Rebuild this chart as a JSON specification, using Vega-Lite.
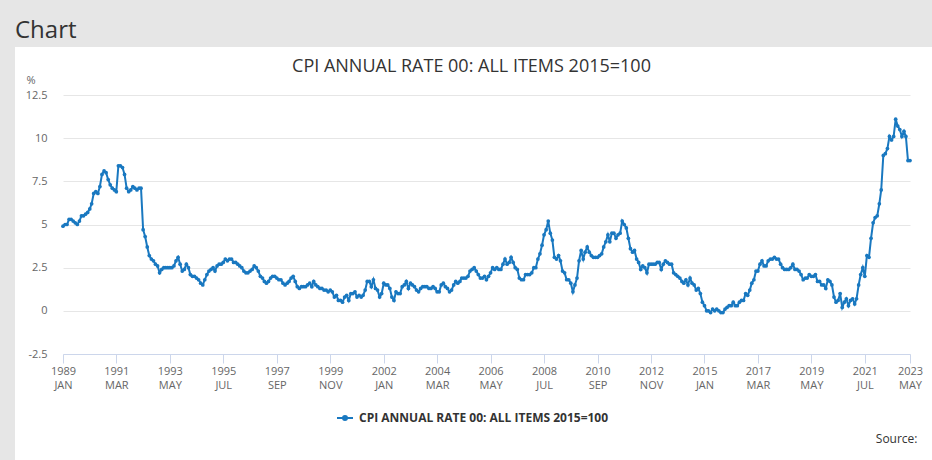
{
"$schema": "https://vega.github.io/schema/vega-lite/v6.json",
"background": "#e6e6e6",
"padding": {"left": 15, "top": 19, "right": 0, "bottom": 0},
"title": {"text": "Chart", "anchor": "start", "frame": "group", "fontSize": 24, "fontWeight": "normal", "color": "#333333", "offset": -15, "baseline": "alphabetic", "font": "Open Sans"},
"config": {"font": "Open Sans", "view": {"stroke": null, "fill": "white"}},
"vconcat": [{
"width": 917,
"height": 414,
"title": {"text": "CPI ANNUAL RATE 00: ALL ITEMS 2015=100", "anchor": "middle", "frame": "group", "fontSize": 18, "fontWeight": "normal", "color": "#333333", "baseline": "alphabetic", "offset": -43, "dx": -2},
"data": {"format": {"parse": {"d": "utc:'%Y-%m'"}}, "values": [
{"d":"1989-01","v":4.9},{"d":"1989-02","v":5.0},{"d":"1989-03","v":5.0},{"d":"1989-04","v":5.3},{"d":"1989-05","v":5.3},{"d":"1989-06","v":5.2},{"d":"1989-07","v":5.1},{"d":"1989-08","v":5.0},{"d":"1989-09","v":5.2},{"d":"1989-10","v":5.5},{"d":"1989-11","v":5.5},{"d":"1989-12","v":5.6},
{"d":"1990-01","v":5.7},{"d":"1990-02","v":5.9},{"d":"1990-03","v":6.2},{"d":"1990-04","v":6.8},{"d":"1990-05","v":6.9},{"d":"1990-06","v":6.8},{"d":"1990-07","v":7.2},{"d":"1990-08","v":7.9},{"d":"1990-09","v":8.1},{"d":"1990-10","v":8.0},{"d":"1990-11","v":7.6},{"d":"1990-12","v":7.3},
{"d":"1991-01","v":7.1},{"d":"1991-02","v":7.0},{"d":"1991-03","v":6.9},{"d":"1991-04","v":8.4},{"d":"1991-05","v":8.4},{"d":"1991-06","v":8.3},{"d":"1991-07","v":7.9},{"d":"1991-08","v":7.1},{"d":"1991-09","v":6.9},{"d":"1991-10","v":7.0},{"d":"1991-11","v":7.2},{"d":"1991-12","v":7.1},
{"d":"1992-01","v":7.0},{"d":"1992-02","v":7.1},{"d":"1992-03","v":7.1},{"d":"1992-04","v":4.7},{"d":"1992-05","v":4.3},{"d":"1992-06","v":3.7},{"d":"1992-07","v":3.2},{"d":"1992-08","v":3.0},{"d":"1992-09","v":2.9},{"d":"1992-10","v":2.7},{"d":"1992-11","v":2.6},{"d":"1992-12","v":2.2},
{"d":"1993-01","v":2.4},{"d":"1993-02","v":2.5},{"d":"1993-03","v":2.5},{"d":"1993-04","v":2.5},{"d":"1993-05","v":2.5},{"d":"1993-06","v":2.5},{"d":"1993-07","v":2.6},{"d":"1993-08","v":2.9},{"d":"1993-09","v":3.1},{"d":"1993-10","v":2.7},{"d":"1993-11","v":2.3},{"d":"1993-12","v":2.4},
{"d":"1994-01","v":2.7},{"d":"1994-02","v":2.5},{"d":"1994-03","v":2.1},{"d":"1994-04","v":2.0},{"d":"1994-05","v":2.0},{"d":"1994-06","v":1.9},{"d":"1994-07","v":1.8},{"d":"1994-08","v":1.6},{"d":"1994-09","v":1.5},{"d":"1994-10","v":1.8},{"d":"1994-11","v":2.1},{"d":"1994-12","v":2.3},
{"d":"1995-01","v":2.4},{"d":"1995-02","v":2.5},{"d":"1995-03","v":2.3},{"d":"1995-04","v":2.6},{"d":"1995-05","v":2.7},{"d":"1995-06","v":2.7},{"d":"1995-07","v":2.8},{"d":"1995-08","v":3.0},{"d":"1995-09","v":2.9},{"d":"1995-10","v":3.0},{"d":"1995-11","v":3.0},{"d":"1995-12","v":2.8},
{"d":"1996-01","v":2.8},{"d":"1996-02","v":2.7},{"d":"1996-03","v":2.6},{"d":"1996-04","v":2.5},{"d":"1996-05","v":2.3},{"d":"1996-06","v":2.2},{"d":"1996-07","v":2.2},{"d":"1996-08","v":2.3},{"d":"1996-09","v":2.4},{"d":"1996-10","v":2.6},{"d":"1996-11","v":2.5},{"d":"1996-12","v":2.3},
{"d":"1997-01","v":2.0},{"d":"1997-02","v":1.9},{"d":"1997-03","v":1.7},{"d":"1997-04","v":1.6},{"d":"1997-05","v":1.7},{"d":"1997-06","v":1.9},{"d":"1997-07","v":2.0},{"d":"1997-08","v":2.0},{"d":"1997-09","v":1.9},{"d":"1997-10","v":1.8},{"d":"1997-11","v":1.8},{"d":"1997-12","v":1.6},
{"d":"1998-01","v":1.5},{"d":"1998-02","v":1.6},{"d":"1998-03","v":1.7},{"d":"1998-04","v":1.9},{"d":"1998-05","v":2.0},{"d":"1998-06","v":1.7},{"d":"1998-07","v":1.4},{"d":"1998-08","v":1.3},{"d":"1998-09","v":1.4},{"d":"1998-10","v":1.4},{"d":"1998-11","v":1.4},{"d":"1998-12","v":1.5},
{"d":"1999-01","v":1.6},{"d":"1999-02","v":1.4},{"d":"1999-03","v":1.7},{"d":"1999-04","v":1.5},{"d":"1999-05","v":1.4},{"d":"1999-06","v":1.3},{"d":"1999-07","v":1.3},{"d":"1999-08","v":1.2},{"d":"1999-09","v":1.2},{"d":"1999-10","v":1.1},{"d":"1999-11","v":1.2},{"d":"1999-12","v":1.1},
{"d":"2000-01","v":0.8},{"d":"2000-02","v":0.9},{"d":"2000-03","v":0.6},{"d":"2000-04","v":0.6},{"d":"2000-05","v":0.5},{"d":"2000-06","v":0.8},{"d":"2000-07","v":0.9},{"d":"2000-08","v":0.6},{"d":"2000-09","v":1.0},{"d":"2000-10","v":1.0},{"d":"2000-11","v":1.1},{"d":"2000-12","v":0.8},
{"d":"2001-01","v":0.9},{"d":"2001-02","v":0.8},{"d":"2001-03","v":0.9},{"d":"2001-04","v":1.2},{"d":"2001-05","v":1.7},{"d":"2001-06","v":1.7},{"d":"2001-07","v":1.4},{"d":"2001-08","v":1.8},{"d":"2001-09","v":1.3},{"d":"2001-10","v":1.2},{"d":"2001-11","v":0.8},{"d":"2001-12","v":1.0},
{"d":"2002-01","v":1.6},{"d":"2002-02","v":1.5},{"d":"2002-03","v":1.5},{"d":"2002-04","v":1.3},{"d":"2002-05","v":0.8},{"d":"2002-06","v":0.6},{"d":"2002-07","v":1.1},{"d":"2002-08","v":1.0},{"d":"2002-09","v":1.0},{"d":"2002-10","v":1.4},{"d":"2002-11","v":1.5},{"d":"2002-12","v":1.7},
{"d":"2003-01","v":1.3},{"d":"2003-02","v":1.6},{"d":"2003-03","v":1.5},{"d":"2003-04","v":1.4},{"d":"2003-05","v":1.2},{"d":"2003-06","v":1.1},{"d":"2003-07","v":1.3},{"d":"2003-08","v":1.4},{"d":"2003-09","v":1.4},{"d":"2003-10","v":1.4},{"d":"2003-11","v":1.3},{"d":"2003-12","v":1.3},
{"d":"2004-01","v":1.4},{"d":"2004-02","v":1.3},{"d":"2004-03","v":1.1},{"d":"2004-04","v":1.1},{"d":"2004-05","v":1.5},{"d":"2004-06","v":1.6},{"d":"2004-07","v":1.4},{"d":"2004-08","v":1.3},{"d":"2004-09","v":1.1},{"d":"2004-10","v":1.2},{"d":"2004-11","v":1.5},{"d":"2004-12","v":1.7},
{"d":"2005-01","v":1.6},{"d":"2005-02","v":1.7},{"d":"2005-03","v":1.9},{"d":"2005-04","v":1.9},{"d":"2005-05","v":1.9},{"d":"2005-06","v":2.0},{"d":"2005-07","v":2.3},{"d":"2005-08","v":2.4},{"d":"2005-09","v":2.5},{"d":"2005-10","v":2.3},{"d":"2005-11","v":2.1},{"d":"2005-12","v":1.9},
{"d":"2006-01","v":1.9},{"d":"2006-02","v":2.0},{"d":"2006-03","v":1.8},{"d":"2006-04","v":2.0},{"d":"2006-05","v":2.2},{"d":"2006-06","v":2.5},{"d":"2006-07","v":2.4},{"d":"2006-08","v":2.5},{"d":"2006-09","v":2.4},{"d":"2006-10","v":2.4},{"d":"2006-11","v":2.7},{"d":"2006-12","v":3.0},
{"d":"2007-01","v":2.7},{"d":"2007-02","v":2.8},{"d":"2007-03","v":3.1},{"d":"2007-04","v":2.8},{"d":"2007-05","v":2.5},{"d":"2007-06","v":2.4},{"d":"2007-07","v":1.9},{"d":"2007-08","v":1.8},{"d":"2007-09","v":1.8},{"d":"2007-10","v":2.1},{"d":"2007-11","v":2.1},{"d":"2007-12","v":2.1},
{"d":"2008-01","v":2.2},{"d":"2008-02","v":2.5},{"d":"2008-03","v":2.5},{"d":"2008-04","v":3.0},{"d":"2008-05","v":3.3},{"d":"2008-06","v":3.8},{"d":"2008-07","v":4.4},{"d":"2008-08","v":4.7},{"d":"2008-09","v":5.2},{"d":"2008-10","v":4.5},{"d":"2008-11","v":4.1},{"d":"2008-12","v":3.1},
{"d":"2009-01","v":3.0},{"d":"2009-02","v":3.2},{"d":"2009-03","v":2.9},{"d":"2009-04","v":2.3},{"d":"2009-05","v":2.2},{"d":"2009-06","v":1.8},{"d":"2009-07","v":1.8},{"d":"2009-08","v":1.6},{"d":"2009-09","v":1.1},{"d":"2009-10","v":1.5},{"d":"2009-11","v":1.9},{"d":"2009-12","v":2.9},
{"d":"2010-01","v":3.5},{"d":"2010-02","v":3.0},{"d":"2010-03","v":3.4},{"d":"2010-04","v":3.7},{"d":"2010-05","v":3.4},{"d":"2010-06","v":3.2},{"d":"2010-07","v":3.1},{"d":"2010-08","v":3.1},{"d":"2010-09","v":3.1},{"d":"2010-10","v":3.2},{"d":"2010-11","v":3.3},{"d":"2010-12","v":3.7},
{"d":"2011-01","v":4.0},{"d":"2011-02","v":4.4},{"d":"2011-03","v":4.0},{"d":"2011-04","v":4.5},{"d":"2011-05","v":4.5},{"d":"2011-06","v":4.2},{"d":"2011-07","v":4.4},{"d":"2011-08","v":4.5},{"d":"2011-09","v":5.2},{"d":"2011-10","v":5.0},{"d":"2011-11","v":4.8},{"d":"2011-12","v":4.2},
{"d":"2012-01","v":3.6},{"d":"2012-02","v":3.4},{"d":"2012-03","v":3.5},{"d":"2012-04","v":3.0},{"d":"2012-05","v":2.8},{"d":"2012-06","v":2.4},{"d":"2012-07","v":2.6},{"d":"2012-08","v":2.5},{"d":"2012-09","v":2.2},{"d":"2012-10","v":2.7},{"d":"2012-11","v":2.7},{"d":"2012-12","v":2.7},
{"d":"2013-01","v":2.7},{"d":"2013-02","v":2.8},{"d":"2013-03","v":2.8},{"d":"2013-04","v":2.4},{"d":"2013-05","v":2.7},{"d":"2013-06","v":2.9},{"d":"2013-07","v":2.8},{"d":"2013-08","v":2.7},{"d":"2013-09","v":2.7},{"d":"2013-10","v":2.2},{"d":"2013-11","v":2.1},{"d":"2013-12","v":2.0},
{"d":"2014-01","v":1.9},{"d":"2014-02","v":1.7},{"d":"2014-03","v":1.6},{"d":"2014-04","v":1.8},{"d":"2014-05","v":1.5},{"d":"2014-06","v":1.9},{"d":"2014-07","v":1.6},{"d":"2014-08","v":1.5},{"d":"2014-09","v":1.2},{"d":"2014-10","v":1.3},{"d":"2014-11","v":1.0},{"d":"2014-12","v":0.5},
{"d":"2015-01","v":0.3},{"d":"2015-02","v":0.0},{"d":"2015-03","v":0.0},{"d":"2015-04","v":-0.1},{"d":"2015-05","v":0.1},{"d":"2015-06","v":0.0},{"d":"2015-07","v":0.1},{"d":"2015-08","v":0.0},{"d":"2015-09","v":-0.1},{"d":"2015-10","v":-0.1},{"d":"2015-11","v":0.1},{"d":"2015-12","v":0.2},
{"d":"2016-01","v":0.3},{"d":"2016-02","v":0.3},{"d":"2016-03","v":0.5},{"d":"2016-04","v":0.3},{"d":"2016-05","v":0.3},{"d":"2016-06","v":0.5},{"d":"2016-07","v":0.6},{"d":"2016-08","v":0.6},{"d":"2016-09","v":1.0},{"d":"2016-10","v":0.9},{"d":"2016-11","v":1.2},{"d":"2016-12","v":1.6},
{"d":"2017-01","v":1.8},{"d":"2017-02","v":2.3},{"d":"2017-03","v":2.3},{"d":"2017-04","v":2.7},{"d":"2017-05","v":2.9},{"d":"2017-06","v":2.6},{"d":"2017-07","v":2.6},{"d":"2017-08","v":2.9},{"d":"2017-09","v":3.0},{"d":"2017-10","v":3.0},{"d":"2017-11","v":3.1},{"d":"2017-12","v":3.0},
{"d":"2018-01","v":3.0},{"d":"2018-02","v":2.7},{"d":"2018-03","v":2.5},{"d":"2018-04","v":2.4},{"d":"2018-05","v":2.4},{"d":"2018-06","v":2.4},{"d":"2018-07","v":2.5},{"d":"2018-08","v":2.7},{"d":"2018-09","v":2.4},{"d":"2018-10","v":2.4},{"d":"2018-11","v":2.3},{"d":"2018-12","v":2.1},
{"d":"2019-01","v":1.8},{"d":"2019-02","v":1.9},{"d":"2019-03","v":1.9},{"d":"2019-04","v":2.1},{"d":"2019-05","v":2.0},{"d":"2019-06","v":2.0},{"d":"2019-07","v":2.1},{"d":"2019-08","v":1.7},{"d":"2019-09","v":1.7},{"d":"2019-10","v":1.5},{"d":"2019-11","v":1.5},{"d":"2019-12","v":1.3},
{"d":"2020-01","v":1.8},{"d":"2020-02","v":1.7},{"d":"2020-03","v":1.5},{"d":"2020-04","v":0.8},{"d":"2020-05","v":0.5},{"d":"2020-06","v":0.6},{"d":"2020-07","v":1.0},{"d":"2020-08","v":0.2},{"d":"2020-09","v":0.5},{"d":"2020-10","v":0.7},{"d":"2020-11","v":0.3},{"d":"2020-12","v":0.6},
{"d":"2021-01","v":0.7},{"d":"2021-02","v":0.4},{"d":"2021-03","v":0.7},{"d":"2021-04","v":1.5},{"d":"2021-05","v":2.1},{"d":"2021-06","v":2.5},{"d":"2021-07","v":2.0},{"d":"2021-08","v":3.2},{"d":"2021-09","v":3.1},{"d":"2021-10","v":4.2},{"d":"2021-11","v":5.1},{"d":"2021-12","v":5.4},
{"d":"2022-01","v":5.5},{"d":"2022-02","v":6.2},{"d":"2022-03","v":7.0},{"d":"2022-04","v":9.0},{"d":"2022-05","v":9.1},{"d":"2022-06","v":9.4},{"d":"2022-07","v":10.1},{"d":"2022-08","v":9.9},{"d":"2022-09","v":10.1},{"d":"2022-10","v":11.1},{"d":"2022-11","v":10.7},{"d":"2022-12","v":10.5},
{"d":"2023-01","v":10.1},{"d":"2023-02","v":10.4},{"d":"2023-03","v":10.1},{"d":"2023-04","v":8.7},{"d":"2023-05","v":8.7}
]},
"mark": {"type": "line", "strokeWidth": 2, "point": {"filled": true, "size": 14}},
"encoding": {
"x": {"field": "d", "type": "temporal",
 "scale": {"type": "utc", "domain": [{"year": 1989, "month": 1, "date": 1, "utc": true}, {"year": 2023, "month": 5, "date": 1, "utc": true}], "range": [48, 895], "nice": false},
 "axis": {
  "values": [
   {"year": 1989, "month": 1, "date": 1, "utc": true},
   {"year": 1991, "month": 3, "date": 1, "utc": true},
   {"year": 1993, "month": 5, "date": 1, "utc": true},
   {"year": 1995, "month": 7, "date": 1, "utc": true},
   {"year": 1997, "month": 9, "date": 1, "utc": true},
   {"year": 1999, "month": 11, "date": 1, "utc": true},
   {"year": 2002, "month": 1, "date": 1, "utc": true},
   {"year": 2004, "month": 3, "date": 1, "utc": true},
   {"year": 2006, "month": 5, "date": 1, "utc": true},
   {"year": 2008, "month": 7, "date": 1, "utc": true},
   {"year": 2010, "month": 9, "date": 1, "utc": true},
   {"year": 2012, "month": 11, "date": 1, "utc": true},
   {"year": 2015, "month": 1, "date": 1, "utc": true},
   {"year": 2017, "month": 3, "date": 1, "utc": true},
   {"year": 2019, "month": 5, "date": 1, "utc": true},
   {"year": 2021, "month": 7, "date": 1, "utc": true},
   {"year": 2023, "month": 5, "date": 1, "utc": true}
  ],
  "labelExpr": "[utcFormat(datum.value, '%Y'), upper(utcFormat(datum.value, '%b'))]",
  "offset": -107,
  "grid": false,
  "domainColor": "#ccd6eb",
  "tickColor": "#ccd6eb",
  "tickSize": 9,
  "labelColor": "#666666",
  "labelFontSize": 11,
  "labelLineHeight": 14,
  "labelPadding": 2,
  "labelFlush": false,
  "labelOverlap": false,
  "title": "Source:",
  "titleAngle": 0,
  "titleX": 902,
  "titleY": 88,
  "titleAlign": "right",
  "titleBaseline": "alphabetic",
  "titleFontSize": 12,
  "titleFontWeight": "normal",
  "titleColor": "#333333"
 }
},
"y": {"field": "v", "type": "quantitative",
 "scale": {"domain": [-2.5, 12.5], "range": [307, 48], "nice": false, "zero": false},
 "axis": {
  "values": [-2.5, 0, 2.5, 5, 7.5, 10, 12.5],
  "labelExpr": "'' + datum.value",
  "offset": -48,
  "domain": false,
  "ticks": false,
  "tickSize": 0,
  "labelPadding": 16,
  "gridColor": "#e6e6e6",
  "labelColor": "#666666",
  "labelFontSize": 11,
  "title": "%",
  "titleAngle": 0,
  "titleX": -37,
  "titleY": 36,
  "titleAlign": "left",
  "titleBaseline": "alphabetic",
  "titleFontSize": 11,
  "titleFontWeight": "normal",
  "titleColor": "#666666"
 }
},
"color": {"datum": "CPI ANNUAL RATE 00: ALL ITEMS 2015=100", "type": "nominal",
 "scale": {"range": ["#1978c0"]},
 "legend": {
  "orient": "none", "legendX": 321, "legendY": 362, "title": null, "padding": 0,
  "symbolType": "M-1,0L1,0M-0.25,0A0.25,0.25,0,1,1,0.25,0A0.25,0.25,0,1,1,-0.25,0Z",
  "symbolSize": 256, "symbolStrokeWidth": 2, "symbolFillColor": "#1978c0", "symbolStrokeColor": "#1978c0",
  "labelFontSize": 12, "labelFontWeight": "bold", "labelColor": "#333333", "labelOffset": 5, "labelLimit": 400
 }
}
}
}]
}
